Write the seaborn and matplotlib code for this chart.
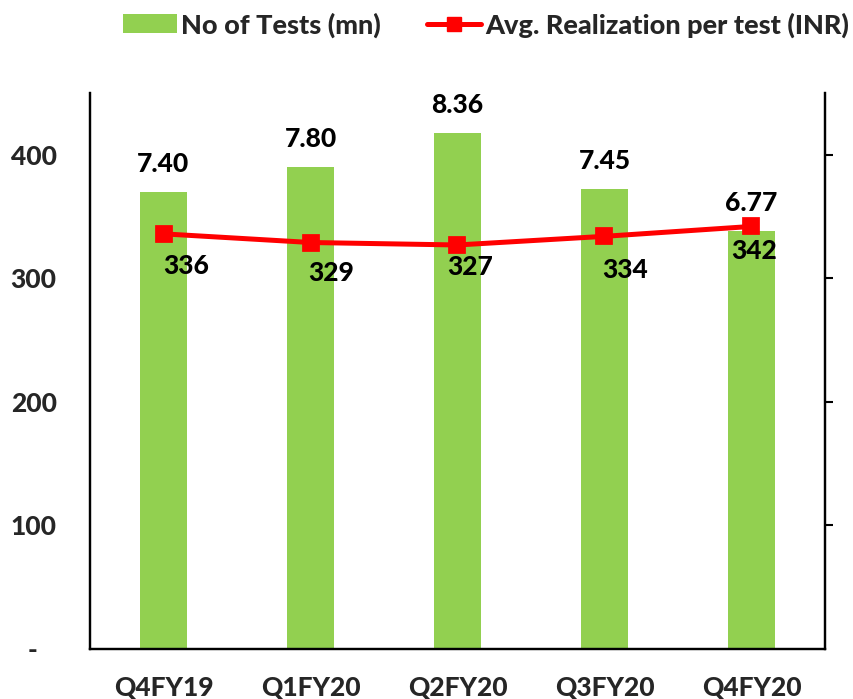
import numpy as np
import pandas as pd
import matplotlib
matplotlib.use("Agg")
import matplotlib.pyplot as plt
import seaborn as sns
from matplotlib.patches import Patch
from matplotlib.lines import Line2D

quarters = ["Q4FY19", "Q1FY20", "Q2FY20", "Q3FY20", "Q4FY20"]
tests_mn = [7.40, 7.80, 8.36, 7.45, 6.77]
realization = [336, 329, 327, 334, 342]
left_ticks = [0, 100, 200, 300, 400]
left_tick_labels = ["-   ", "100", "200", "300", "400"]
right_ticks = [2, 4, 6, 8]

sns.set_theme(style="white")
plt.rcParams['font.family'] = ['Lato', 'DejaVu Sans']

W = 900
plt.rcParams['font.weight'] = W

GREEN = "#92D050"
RED = "#FF0000"
FS = 19

df = pd.DataFrame({"quarter": quarters, "tests": tests_mn, "real": realization})

fig = plt.figure(figsize=(8.54, 6.99), dpi=100)
ax = fig.add_axes([90/854, 50/699, 735/854, 556/699])
ax2 = ax.twinx()

sns.barplot(data=df, x="quarter", y="tests", ax=ax2, color=GREEN, width=0.32,
            saturation=1, edgecolor="none")
sns.pointplot(data=df, x="quarter", y="real", ax=ax, color=RED, markers="s",
              markersize=10, linewidth=3.6)

ax.set_zorder(ax2.get_zorder() + 1)
ax.patch.set_visible(False)

ax.set_xlim(-0.5, 4.5)
ax2.set_xlim(-0.5, 4.5)
ax.set_ylim(0, 450)
ax2.set_ylim(0, 9)

ax.set_yticks(left_ticks)
ax.set_yticklabels(left_tick_labels, fontsize=FS, fontweight=W)
ax.tick_params(axis="y", length=0, pad=24)
ax.set_xticks(range(len(quarters)))
ax.set_xticklabels(quarters, fontsize=FS, fontweight=W)
ax.tick_params(axis="x", length=0, pad=19)
ax.set_xlabel("")
ax.set_ylabel("")
ax2.set_xlabel("")
ax2.set_ylabel("")

ax2.set_yticks(right_ticks)
ax2.set_yticklabels([])
ax2.tick_params(axis="y", right=True, direction="out", length=6, width=1.5, color="black")

for a in (ax, ax2):
    a.spines["top"].set_visible(False)
    for s in ("left", "right", "bottom"):
        a.spines[s].set_color("black")
        a.spines[s].set_linewidth(1.6)

# bar labels
for i, v in enumerate(tests_mn):
    ax2.annotate(f"{v:.2f}", (i, v), xytext=(0, 20), textcoords="offset points",
                 ha="center", va="center", fontsize=FS, fontweight=W, color="black")

# line labels
line_offsets = [(16, -23), (15, -22), (9, -16), (15, -24), (2, -18)]
for i, v in enumerate(realization):
    dx, dy = line_offsets[i]
    ax.annotate(f"{v}", (i, v), xytext=(dx, dy), textcoords="offset points",
                ha="center", va="center", fontsize=FS, fontweight=W, color="black")

handles = [Patch(facecolor=GREEN, edgecolor="none"),
           Line2D([0], [0], color=RED, lw=3.6, marker="s", markersize=10)]
fig.legend(handles, ["No of Tests (mn)", "Avg. Realization per test (INR)"],
           loc="center", bbox_to_anchor=(486/854, 1 - 25/699), ncol=2, frameon=False,
           prop={"size": 19.5, "weight": W}, handlelength=2.0, handletextpad=0.15,
           columnspacing=1.7)

fig.savefig("out.png", dpi=100)
